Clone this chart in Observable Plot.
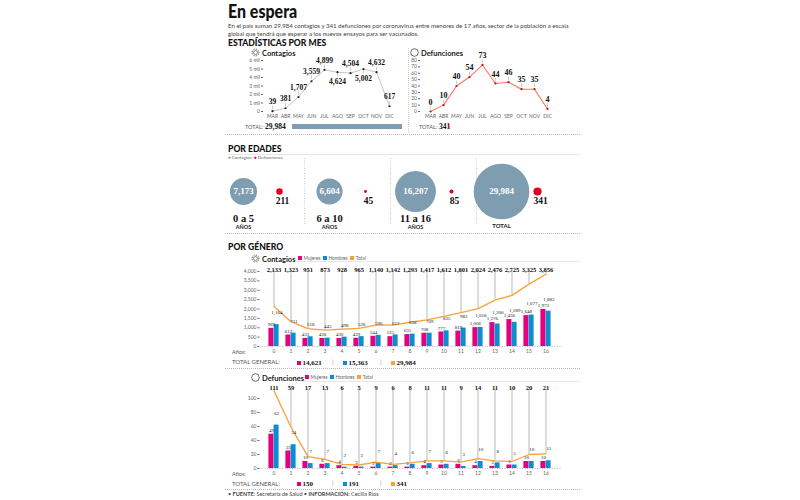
<!DOCTYPE html>
<html><head><meta charset="utf-8">
<script src="https://cdn.jsdelivr.net/npm/d3@7"></script>
<script src="https://cdn.jsdelivr.net/npm/@observablehq/plot@0.6"></script>
<style>
html,body{margin:0;padding:0;background:#fff;}
#root{position:relative;width:800px;height:500px;overflow:hidden;background:#fff;font-family:Lato,"Open Sans",sans-serif;color:#222;font-size:6px;}
.abs{position:absolute;white-space:nowrap;line-height:1;font-size:6px;}
.abs svg.plot{display:block;}
.abs svg.ic{display:inline-block;vertical-align:-1.5px;margin-right:2px;}
.hd{font-weight:900;font-size:10px;color:#111;transform:scaleX(0.86);transform-origin:0 0;}
.sub{font-size:7.5px;font-weight:700;color:#222;}
.num{font-family:"Liberation Serif",serif;font-weight:700;color:#111;}
.sm{font-size:5.5px;color:#555;}
.sq{display:inline-block;width:4px;height:4px;margin-right:1.5px;vertical-align:0;}
.dl{position:absolute;height:0;border-top:1px dotted #bbb;}
.vl{position:absolute;width:0;border-left:1px dotted #ccc;}
.hl{position:absolute;height:0;border-top:1px solid #e6e6e6;}
</style>
</head><body><div id="root"></div>
<script>
// ---------- DATA ----------
const months = ["MAR","ABR","MAY","JUN","JUL","AGO","SEP","OCT","NOV","DIC"];
const contagiosMes = [39,381,1707,3559,4899,4624,4504,5002,4632,617];
const defuncionesMes = [0,10,40,54,73,44,46,35,35,4];
const totalContagios = 29984;
const totalDefunciones = 341;
const ticksContagiosMes = [0,1000,2000,3000,4000,5000,6000];
const ticksDefuncionesMes = [0,10,20,30,40,50,60,70,80];

const grupos = ["0 a 5","6 a 10","11 a 16","TOTAL"];
const contagiosGrupo = [7173,6604,16207,29984];
const defuncionesGrupo = [211,45,85,341];

const edades = ["0","1","2","3","4","5","6","7","8","9","10","11","12","13","14","15","16"];
const contMujeres = [969,612,433,428,430,439,544,525,635,708,777,819,1006,1276,1436,1648,1973];
const contHombres = [1164,711,518,445,498,526,596,617,658,709,835,982,1018,1200,1289,1677,1883];
const contTotal = [2133,1323,951,873,928,965,1140,1142,1293,1417,1612,1801,2024,2476,2725,3325,3856];
const defMujeres = [49,25,10,6,4,3,2,2,2,4,5,6,4,3,5,10,10];
const defHombres = [62,34,7,7,2,2,7,4,6,7,6,3,10,8,5,10,11];
const defTotal = [111,59,17,13,6,5,9,6,8,11,11,9,14,11,10,20,21];
const contTotalesGenerales = [14621,15363,29984];
const defTotalesGenerales = [150,191,341];
const ticksContGenero = [0,500,1000,1500,2000,2500,3000,3500,4000];
const ticksDefGenero = [0,20,40,60,80,100];

// ---------- STYLE ----------
const root = document.getElementById("root");
const fmt = d3.format(",");
const serif = "Liberation Serif, serif";
const cBlue = "#7f9db0", cRed = "#e3001b", cLineD = "#f07a5a";
const pink = "#e6007e", blue = "#0b8dcf", orange = "#f7a23b";
const baseStyle = {fontFamily: "Lato, sans-serif", fontSize: "5px", color: "#666", background: "transparent", overflow: "visible"};

function addText(html, left, top, css = "", cls = "") {
  const d = document.createElement("div");
  d.className = "abs" + (cls ? " " + cls : "");
  d.style.cssText += `left:${left}px;top:${top}px;${css}`;
  d.innerHTML = html;
  root.appendChild(d);
  return d;
}
function addPlot(svg, left, top) {
  const d = document.createElement("div");
  d.className = "abs";
  d.style.left = left + "px"; d.style.top = top + "px";
  svg.classList.add("plot");
  d.appendChild(svg);
  root.appendChild(d);
}
function addLine(cls, left, top, len) {
  const d = document.createElement("div");
  d.className = cls;
  d.style.left = left + "px"; d.style.top = top + "px";
  if (cls === "vl") d.style.height = len + "px"; else d.style.width = len + "px";
  root.appendChild(d);
}
const virusIcon = `<svg class="ic" width="9" height="9"><circle cx="4.5" cy="4.5" r="3.4" fill="none" stroke="#444" stroke-width="0.9" stroke-dasharray="1 0.8"/><circle cx="4.5" cy="4.5" r="2" fill="none" stroke="#444" stroke-width="0.6"/></svg>`;
const ringIcon = `<svg class="ic" width="9" height="9"><circle cx="4.5" cy="4.5" r="3.8" fill="none" stroke="#444" stroke-width="0.8"/></svg>`;

// ---------- HEADER ----------
addText("En espera", 228, 1, "font-weight:900;font-size:19px;color:#111;transform:scaleX(0.84);transform-origin:0 0;");
addText("En el país suman 29,984 contagios y 341 defunciones por coronavirus entre menores de 17 años, sector de la población a escala<br>global que tendrá que esperar a los nuevos ensayos para ser vacunados.", 228, 21.5, "font-size:6.1px;line-height:8px;color:#444;");
addText("ESTADÍSTICAS POR MES", 228, 36.5, "", "hd");

// ---------- POR MES ----------
addText(virusIcon + "Contagios", 251, 48, "", "sub");
addText(ringIcon + "Defunciones", 410, 48, "", "sub");

const mesData = months.map((m, i) => ({m, c: contagiosMes[i], d: defuncionesMes[i]}));
const belowC = new Set(["AGO", "OCT"]);
const uC = 6000 / 51, uD = 80 / 51;
const labelStyle = {fontFamily: serif, fontWeight: "bold", fill: "#111"};

const chartCMes = Plot.plot({
  width: 162, height: 75, marginLeft: 24, marginRight: 10, marginTop: 8, marginBottom: 16,
  style: baseStyle,
  x: {type: "point", domain: months, padding: 0, insetLeft: 7, tickSize: 0, tickPadding: 3, label: null},
  y: {domain: [0, 6000], ticks: ticksContagiosMes, tickFormat: d => d === 0 ? "0" : d / 1000 + " mil", tickSize: 2, tickPadding: 1.5, label: null},
  marks: [
    Plot.line(mesData, {x: "m", y: "c", stroke: "#c4c4c4", strokeWidth: 1}),
    Plot.ruleX(mesData, {x: "m", y1: d => d.c + (belowC.has(d.m) ? -1.5 : 1.5) * uC, y2: d => d.c + (belowC.has(d.m) ? -5 : 5) * uC, stroke: "#aaa", strokeWidth: 0.6}),
    Plot.dot(mesData, {x: "m", y: "c", r: 1.1, fill: "#222"}),
    Plot.text(mesData.filter(d => !belowC.has(d.m)), {x: "m", y: "c", text: d => fmt(d.c), dy: -9.5, fontSize: 7.5, ...labelStyle}),
    Plot.text(mesData.filter(d => belowC.has(d.m)), {x: "m", y: "c", text: d => fmt(d.c), dy: 9.5, fontSize: 7.5, ...labelStyle})
  ]
});
addPlot(chartCMes, 239, 52);

const chartDMes = Plot.plot({
  width: 149, height: 75, marginLeft: 11, marginRight: 10, marginTop: 8, marginBottom: 16,
  style: baseStyle,
  x: {type: "point", domain: months, padding: 0, insetLeft: 8, tickSize: 0, tickPadding: 3, label: null},
  y: {domain: [0, 80], ticks: ticksDefuncionesMes, tickSize: 2, tickPadding: 1.5, label: null},
  marks: [
    Plot.line(mesData, {x: "m", y: "d", stroke: cLineD, strokeWidth: 1.1}),
    Plot.ruleX(mesData, {x: "m", y1: d => d.d + 1.5 * uD, y2: d => d.d + 5 * uD, stroke: "#aaa", strokeWidth: 0.6}),
    Plot.dot(mesData, {x: "m", y: "d", r: 1.1, fill: cRed}),
    Plot.text(mesData, {x: "m", y: "d", text: d => fmt(d.d), dy: -9.5, fontSize: 8, ...labelStyle})
  ]
});
addPlot(chartDMes, 409, 52);

function totalBar(value, color) {
  return Plot.plot({
    width: 110, height: 5, margin: 0, style: baseStyle,
    x: {domain: [0, totalContagios], range: [0, 110], axis: null},
    marks: [Plot.barX([value], {x: d => d, fill: color})]
  });
}
addText(`<span class="sm">TOTAL:</span> <span class="num" style="font-size:7.5px">${fmt(totalContagios)}</span>`, 245, 123, "font-size:7.5px;");
addPlot(totalBar(totalContagios, cBlue), 292, 124);
addText(`<span class="sm">TOTAL:</span> <span class="num" style="font-size:7.5px">${fmt(totalDefunciones)}</span>`, 419, 123, "font-size:7.5px;");
addPlot(totalBar(totalDefunciones, cRed), 448, 124);
addLine("vl", 408, 48, 85);
addLine("dl", 225, 134, 355);

// ---------- POR EDADES ----------
addText("POR EDADES", 228, 143, "", "hd");
addLine("hl", 228, 153.5, 352);
addText(`<span style="color:${cBlue}">●</span> Contagios &nbsp;<span style="color:${cRed}">●</span> Defunciones`, 228, 156, "font-size:4.5px;color:#666;");

const edadData = grupos.map((g, i) => ({g, c: contagiosGrupo[i], d: defuncionesGrupo[i], total: g === "TOTAL"}));
const bubbleCommon = {
  width: 355, height: 75, marginLeft: 17, marginRight: 78.5, marginTop: 0, marginBottom: 9,
  style: baseStyle,
  x: {type: "point", domain: grupos, padding: 0, axis: null}
};
const bubbles = Plot.plot({
  ...bubbleCommon,
  r: {type: "sqrt", domain: [0, 29984], range: [0, 27.8]},
  marks: [
    Plot.ruleX(grupos.slice(1), {x: d => d, dx: -25, stroke: "#ccc", strokeDasharray: "1,1.5"}),
    Plot.dot(edadData, {x: "g", r: "c", fill: cBlue}),
    Plot.text(edadData, {x: "g", text: d => fmt(d.c), fill: "white", fontFamily: serif, fontWeight: "bold", fontSize: 9}),
    Plot.text(edadData.filter(d => !d.total), {x: "g", text: "g", dy: 27, fontSize: 10.5, ...labelStyle}),
    Plot.text(edadData.filter(d => !d.total), {x: "g", text: () => "AÑOS", dy: 36, fontSize: 5.5, fontWeight: "bold", fill: "#222"}),
    Plot.text(edadData.filter(d => d.total), {x: "g", text: () => "TOTAL", dy: 35, fontSize: 6, fontWeight: "bold", fill: "#222"})
  ]
});
addPlot(bubbles, 225, 158);
const redDots = Plot.plot({
  ...bubbleCommon,
  r: {type: "sqrt", domain: [0, 341], range: [0, 4.1]},
  marks: [
    Plot.dot(edadData, {x: "g", r: "d", fill: cRed, dx: 36}),
    Plot.text(edadData, {x: "g", text: d => fmt(d.d), dx: 39, dy: 9, fontSize: 9.5, ...labelStyle})
  ]
});
addPlot(redDots, 225, 158);
addLine("dl", 225, 233, 355);

// ---------- POR GÉNERO ----------
addText("POR GÉNERO", 228, 240.5, "", "hd");
const legendHtml = `<span class="sq" style="background:${pink}"></span>Mujeres &nbsp;<span class="sq" style="background:${blue}"></span>Hombres &nbsp;<span class="sq" style="background:${orange}"></span>Total`;

function generoChart(mujeres, hombres, total, yMax, yTicks, height, marginTop, ruleTop, labelDy) {
  const data = edades.map((e, i) => ({e, m: mujeres[i], h: hombres[i], t: total[i]}));
  const numStyle = {fontFamily: serif, fontSize: 5, fill: "#222"};
  return Plot.plot({
    width: 355, height, marginLeft: 34.5, marginRight: 19.5, marginTop, marginBottom: 12,
    style: baseStyle,
    x: {type: "band", domain: edades, padding: 0.7, tickSize: 0, tickPadding: 3, label: null},
    y: {domain: [0, yMax], ticks: yTicks, tickFormat: fmt, tickSize: 2, tickPadding: 1.5, label: null},
    marks: [
      Plot.ruleY([0], {stroke: "#bbb", strokeDasharray: "1,1.5"}),
      Plot.ruleX(data, {x: "e", y1: "t", y2: () => ruleTop, stroke: "#dcdcdc", strokeWidth: 2}),
      Plot.barY(data, {x: "e", y: "m", fill: pink, dx: -2.6}),
      Plot.barY(data, {x: "e", y: "h", fill: blue, dx: 2.6}),
      Plot.line(data, {x: "e", y: "t", stroke: orange, strokeWidth: 1.3}),
      Plot.text(data, {x: "e", y: "m", text: d => fmt(d.m), dx: -2.6, dy: -4, ...numStyle}),
      Plot.text(data, {x: "e", y: "h", text: d => fmt(d.h), dx: 2.8, dy: -12, ...numStyle}),
      Plot.text(data, {x: "e", frameAnchor: "top", text: d => fmt(d.t), dy: labelDy, fontSize: 6.5, ...labelStyle})
    ]
  });
}
function totalGeneral(vals, top) {
  addText("TOTAL GENERAL:", 232, top + 0.5, "font-size:6px;color:#555;");
  const cols = [pink, blue, orange];
  const lefts = [297, 343, 391];
  vals.forEach((v, i) => addText(`<span class="sq" style="background:${cols[i]}"></span><span class="num">${fmt(v)}</span>`, lefts[i], top, "font-size:7px;"));
  addText("|", 332, top, "font-size:6.5px;color:#999;");
  addText("|", 380, top, "font-size:6.5px;color:#999;");
}

// Contagios por género
addText(virusIcon + "Contagios", 251, 253.5, "", "sub");
addText(legendHtml, 298, 255.5, "font-size:4.8px;color:#666;");
addLine("hl", 295, 261, 285);
addPlot(generoChart(contMujeres, contHombres, contTotal, 4000, ticksContGenero, 100, 13, 4050, -4), 225, 258);
addText("Años:", 232, 349.5, "font-size:5.5px;color:#555;");
totalGeneral(contTotalesGenerales, 358.5);
addLine("dl", 225, 368, 355);

// Defunciones por género
addText(ringIcon + "Defunciones", 251, 373, "", "sub");
addText(legendHtml, 305, 375, "font-size:4.8px;color:#666;");
addLine("hl", 302, 380.5, 278);
addPlot(generoChart(defMujeres, defHombres, defTotal, 100, ticksDefGenero, 104, 22, 113, -13), 225, 376);
addText("Años:", 232, 471.5, "font-size:5.5px;color:#555;");
totalGeneral(defTotalesGenerales, 480);
addLine("dl", 225, 488.5, 355);

addText("• <b>FUENTE:</b> Secretaría de Salud • <b>INFORMACIÓN:</b> Cecilia Ríos", 228, 491.5, "font-size:5.5px;color:#444;");
</script></body></html>
